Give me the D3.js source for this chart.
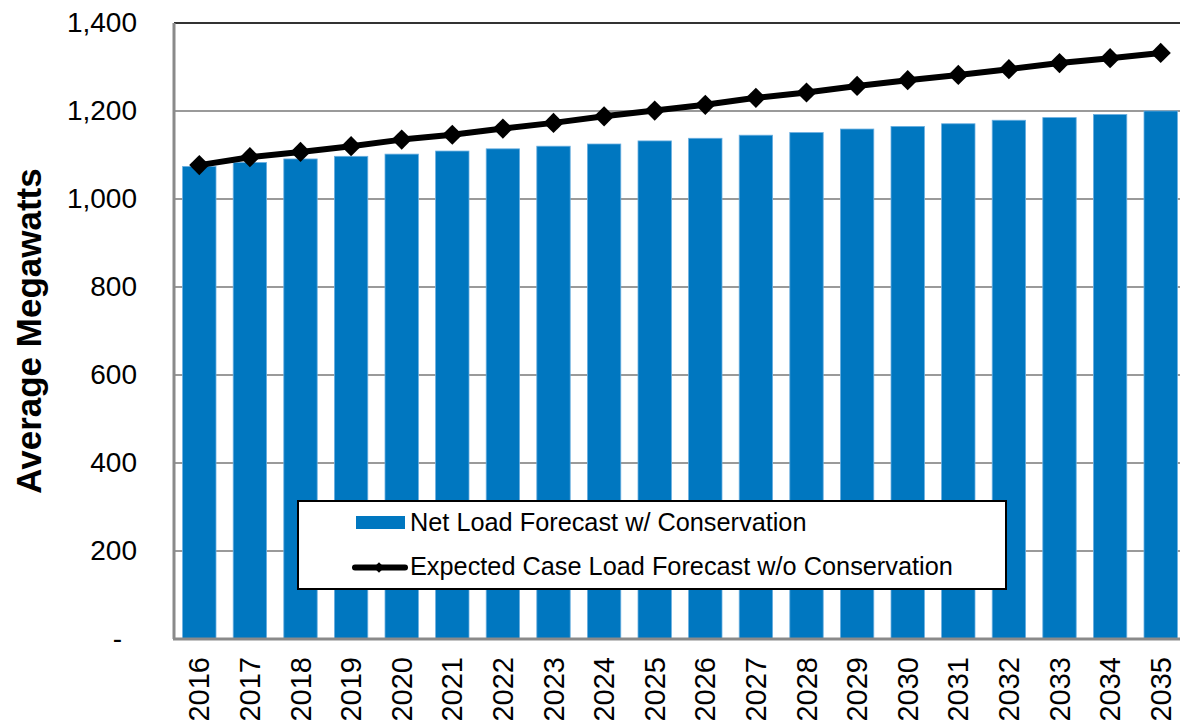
<!DOCTYPE html>
<html>
<head>
  <meta charset="UTF-8">
  <script src="https://d3js.org/d3.v7.min.js"></script>
  <style>
    body { margin: 0; background: #fff; }
    svg { display: block; font-family: "Liberation Sans", Arial, sans-serif; }
  </style>
</head>
<body>
  <div id="chart"></div>
  <script>
    // data
    var years = ["2016", "2017", "2018", "2019", "2020", "2021", "2022", "2023", "2024", "2025",
                 "2026", "2027", "2028", "2029", "2030", "2031", "2032", "2033", "2034", "2035"];
    var netLoad = [1074, 1083, 1091, 1097, 1102, 1109, 1114, 1120, 1125, 1132,
                   1138, 1145, 1151, 1159, 1165, 1171, 1179, 1185, 1192, 1200];
    var expectedLoad = [1077, 1095, 1107, 1120, 1135, 1146, 1160, 1173, 1188, 1201,
                        1214, 1230, 1242, 1257, 1270, 1282, 1295, 1309, 1320, 1332];
    var yTicks = [0, 200, 400, 600, 800, 1000, 1200, 1400];
    var seriesNames = ["Net Load Forecast w/ Conservation", "Expected Case Load Forecast w/o Conservation"];

    var W = 1180, H = 727;
    var margin = { top: 23, right: -6, bottom: 88, left: 174 };
    var width = W - margin.left - margin.right,
        height = H - margin.top - margin.bottom;

    var svg = d3.select("#chart").append("svg")
      .attr("width", W)
      .attr("height", H);

    var g = svg.append("g")
      .attr("transform", "translate(" + margin.left + "," + margin.top + ")");

    var x = d3.scaleBand()
      .domain(years)
      .range([0, width])
      .paddingInner(0.34)
      .paddingOuter(0.17);

    var xc = d3.scaleBand().domain(years).range([0, width]); // category centres

    var y = d3.scaleLinear()
      .domain([0, 1400])
      .range([height, 0]);

    // gridlines
    g.append("g")
      .selectAll("line")
      .data(yTicks.filter(function (d) { return d > 0 && d < 1400; }))
      .enter().append("line")
      .attr("x1", 0).attr("x2", width)
      .attr("y1", function (d) { return y(d); })
      .attr("y2", function (d) { return y(d); })
      .attr("stroke", "#9a9a9a")
      .attr("stroke-width", 2);

    // top border
    g.append("line")
      .attr("x1", 0).attr("x2", width)
      .attr("y1", 0).attr("y2", 0)
      .attr("stroke", "#333")
      .attr("stroke-width", 2);

    // bars
    g.append("g")
      .selectAll("rect")
      .data(netLoad)
      .enter().append("rect")
      .attr("x", function (d, i) { return x(years[i]); })
      .attr("y", function (d) { return y(d); })
      .attr("width", x.bandwidth())
      .attr("height", function (d) { return height - y(d); })
      .attr("fill", "#0077c0")
      .attr("stroke", "#6aafe0")
      .attr("stroke-width", 0.8);

    // axes lines
    g.append("line")
      .attr("x1", 0).attr("x2", 0)
      .attr("y1", 0).attr("y2", height)
      .attr("stroke", "#8a8a8a")
      .attr("stroke-width", 3);
    g.append("line")
      .attr("x1", -1).attr("x2", width)
      .attr("y1", height).attr("y2", height)
      .attr("stroke", "#8a8a8a")
      .attr("stroke-width", 3);

    // line series
    var line = d3.line()
      .x(function (d, i) { return xc(years[i]) + xc.bandwidth() / 2; })
      .y(function (d) { return y(d); });

    g.append("path")
      .datum(expectedLoad)
      .attr("d", line)
      .attr("fill", "none")
      .attr("stroke", "#000")
      .attr("stroke-width", 6)
      .attr("stroke-linejoin", "round");

    var diamond = d3.symbol().type(d3.symbolDiamond2).size(260);
    g.append("g")
      .selectAll("path")
      .data(expectedLoad)
      .enter().append("path")
      .attr("d", diamond)
      .attr("transform", function (d, i) {
        return "translate(" + (xc(years[i]) + xc.bandwidth() / 2) + "," + y(d) + ")";
      })
      .attr("fill", "#000");

    // y axis labels
    var yAxis = g.append("g")
      .call(d3.axisLeft(y).tickValues(yTicks).tickSize(0).tickPadding(37)
        .tickFormat(function (d) { return d === 0 ? "-" : d3.format(",")(d); }));
    yAxis.select(".domain").remove();
    yAxis.selectAll("text")
      .style("font-size", "28px")
      .style("font-family", "'Liberation Sans', Arial, sans-serif")
      .attr("fill", "#000")
      .attr("dx", function (d) { return d === 0 ? -15 : 0; });

    // x axis labels
    var xAxis = g.append("g")
      .attr("transform", "translate(0," + height + ")")
      .call(d3.axisBottom(xc).tickSize(0));
    xAxis.select(".domain").remove();
    xAxis.selectAll("text")
      .style("font-size", "29px")
      .style("font-family", "'Liberation Sans', Arial, sans-serif")
      .attr("fill", "#000")
      .attr("text-anchor", "end")
      .attr("transform", "rotate(-90)")
      .attr("x", -18)
      .attr("y", 0)
      .attr("dy", "0.35em");

    // y title
    svg.append("text")
      .attr("transform", "translate(41,331) rotate(-90)")
      .attr("text-anchor", "middle")
      .style("font-size", "35px")
      .style("font-weight", "bold")
      .text("Average Megawatts");

    // legend
    var lg = svg.append("g").attr("transform", "translate(298,501)");
    lg.append("rect")
      .attr("x", 0).attr("y", 0)
      .attr("width", 708).attr("height", 88)
      .attr("fill", "#fff")
      .attr("stroke", "#000")
      .attr("stroke-width", 2);
    lg.append("rect")
      .attr("x", 58).attr("y", 15)
      .attr("width", 49).attr("height", 13)
      .attr("fill", "#0077c0");
    lg.append("line")
      .attr("x1", 57).attr("x2", 107)
      .attr("y1", 66.5).attr("y2", 66.5)
      .attr("stroke", "#000")
      .attr("stroke-width", 6)
      .attr("stroke-linecap", "round");
    lg.append("path")
      .attr("d", d3.symbol().type(d3.symbolDiamond2).size(70))
      .attr("transform", "translate(81,66.5)")
      .attr("fill", "#000");
    lg.selectAll("text.lab")
      .data(seriesNames)
      .enter().append("text")
      .attr("class", "lab")
      .attr("x", 112)
      .attr("y", function (d, i) { return 30 + i * 44; })
      .style("font-size", "25.3px")
      .text(function (d) { return d; });
  </script>
</body>
</html>
